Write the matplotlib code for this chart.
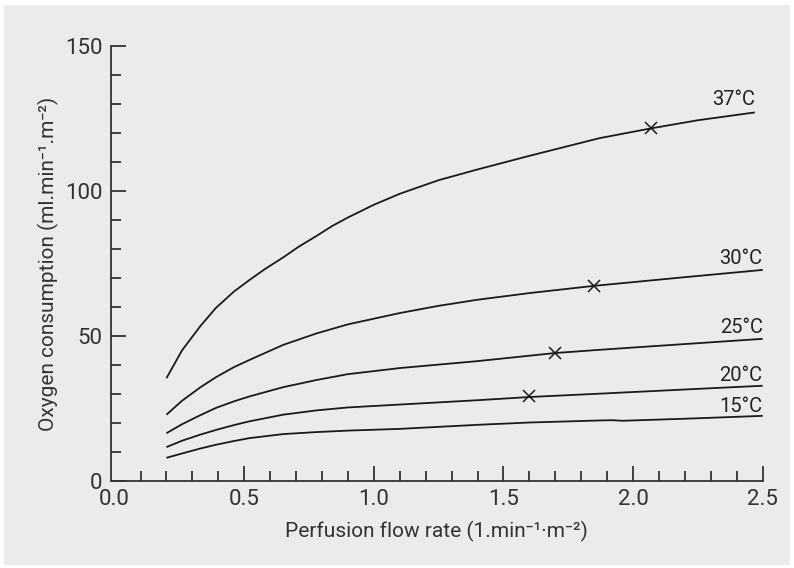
import matplotlib.pyplot as plt
from matplotlib.patches import Rectangle
from matplotlib.ticker import MultipleLocator

plt.rcParams['font.family'] = ['Roboto', 'DejaVu Sans']

# curve readings (flow rate, oxygen consumption)
x37 = [0.2, 0.26, 0.33, 0.39, 0.46, 0.52, 0.58, 0.65, 0.71, 0.78, 0.84, 0.9, 1.0, 1.1, 1.25, 1.4, 1.6, 1.87, 2.07, 2.25, 2.47]
y37 = [35.4, 45, 53.3, 59.6, 65.3, 69.3, 73.1, 77.1, 80.8, 84.6, 88.0, 90.9, 95.3, 99.1, 103.8, 107.5, 112.2, 118.3, 121.7, 124.5, 127.2]

x30 = [0.2, 0.26, 0.33, 0.39, 0.46, 0.52, 0.58, 0.65, 0.78, 0.9, 1.1, 1.25, 1.4, 1.6, 1.85, 2.2, 2.5]
y30 = [22.8, 27.6, 32.2, 35.7, 39.2, 41.7, 44.1, 46.9, 50.9, 54, 57.9, 60.4, 62.5, 64.8, 67.3, 70.3, 72.8]

x25 = [0.2, 0.26, 0.33, 0.39, 0.46, 0.52, 0.65, 0.78, 0.9, 1.1, 1.4, 1.7, 1.87, 2.2, 2.5]
y25 = [16.4, 19.5, 22.6, 25.1, 27.4, 29.1, 32.3, 34.8, 36.8, 38.9, 41.3, 44.1, 45.2, 47.2, 49]

x20 = [0.2, 0.26, 0.33, 0.39, 0.46, 0.52, 0.65, 0.78, 0.9, 1.1, 1.4, 1.6, 1.88, 2.2, 2.5]
y20 = [11.6, 13.8, 15.9, 17.5, 19.2, 20.5, 22.8, 24.3, 25.3, 26.3, 27.8, 28.9, 30.1, 31.5, 32.8]

x15 = [0.2, 0.26, 0.33, 0.39, 0.46, 0.52, 0.65, 0.78, 0.9, 1.1, 1.4, 1.6, 1.87, 1.92, 1.96, 2.2, 2.5]
y15 = [7.9, 9.4, 11.1, 12.4, 13.7, 14.7, 16.1, 16.8, 17.3, 17.9, 19.3, 20.1, 20.8, 20.9, 20.7, 21.4, 22.4]

# crosses
mark_x = [2.07, 1.85, 1.7, 1.6]
mark_y = [121.7, 67.4, 44.1, 29.1]

labels = ['37°C', '30°C', '25°C', '20°C', '15°C']
label_x = [2.47, 2.5, 2.5, 2.5, 2.5]
label_y = [131.5, 76.6, 52.8, 36.2, 25.5]

fig = plt.figure(figsize=(7.94, 5.68), dpi=100)
fig.patches.append(Rectangle((4 / 794, 3 / 568), 786 / 794, 560 / 568,
                             transform=fig.transFigure, facecolor='#ebebeb',
                             edgecolor='none', zorder=-5))
ax = fig.add_axes([110.7 / 794, 87.3 / 568, 652 / 794, 434.3 / 568])
ax.set_facecolor('none')

for xs, ys in [(x37, y37), (x30, y30), (x25, y25), (x20, y20), (x15, y15)]:
    ax.plot(xs, ys, color='#1a1a1a', lw=1.3, solid_capstyle='butt')

ax.plot(mark_x, mark_y, 'x', color='#1a1a1a', ms=8, mew=1.1)

for t, tx, ty in zip(labels, label_x, label_y):
    ax.text(tx, ty, t, ha='right', va='center', fontsize=14.5, color='#222222')

ax.set_xlim(-0.015, 2.5)
ax.set_ylim(0, 150)
ax.xaxis.set_major_locator(MultipleLocator(0.5))
ax.xaxis.set_minor_locator(MultipleLocator(0.1))
ax.yaxis.set_major_locator(MultipleLocator(50))
ax.yaxis.set_minor_locator(MultipleLocator(10))
ax.xaxis.set_major_formatter(lambda v, p: f'{v:.1f}')

for s in ['top', 'right']:
    ax.spines[s].set_visible(False)
for s in ['left', 'bottom']:
    ax.spines[s].set_color('#333333')
    ax.spines[s].set_linewidth(1.3)

ax.tick_params(which='both', direction='in', color='#333333', width=1.3,
               labelsize=16, labelcolor='#333333')
ax.tick_params(which='major', length=11, pad=6)
ax.tick_params(which='minor', length=7)

# the 0.0 tick sits on the y spine in the original
fig.canvas.draw()
for tk in ax.xaxis.get_major_ticks():
    if abs(tk.get_loc()) < 1e-9:
        tk.tick1line.set_visible(False)

ax.set_xlabel('Perfusion flow rate (1.min⁻¹·m⁻²)', fontsize=15,
              color='#333333', labelpad=8)
ax.set_ylabel('Oxygen consumption (ml.min⁻¹.m⁻²)', fontsize=15,
              color='#333333', labelpad=4)

fig.savefig('out.png', dpi=100)
